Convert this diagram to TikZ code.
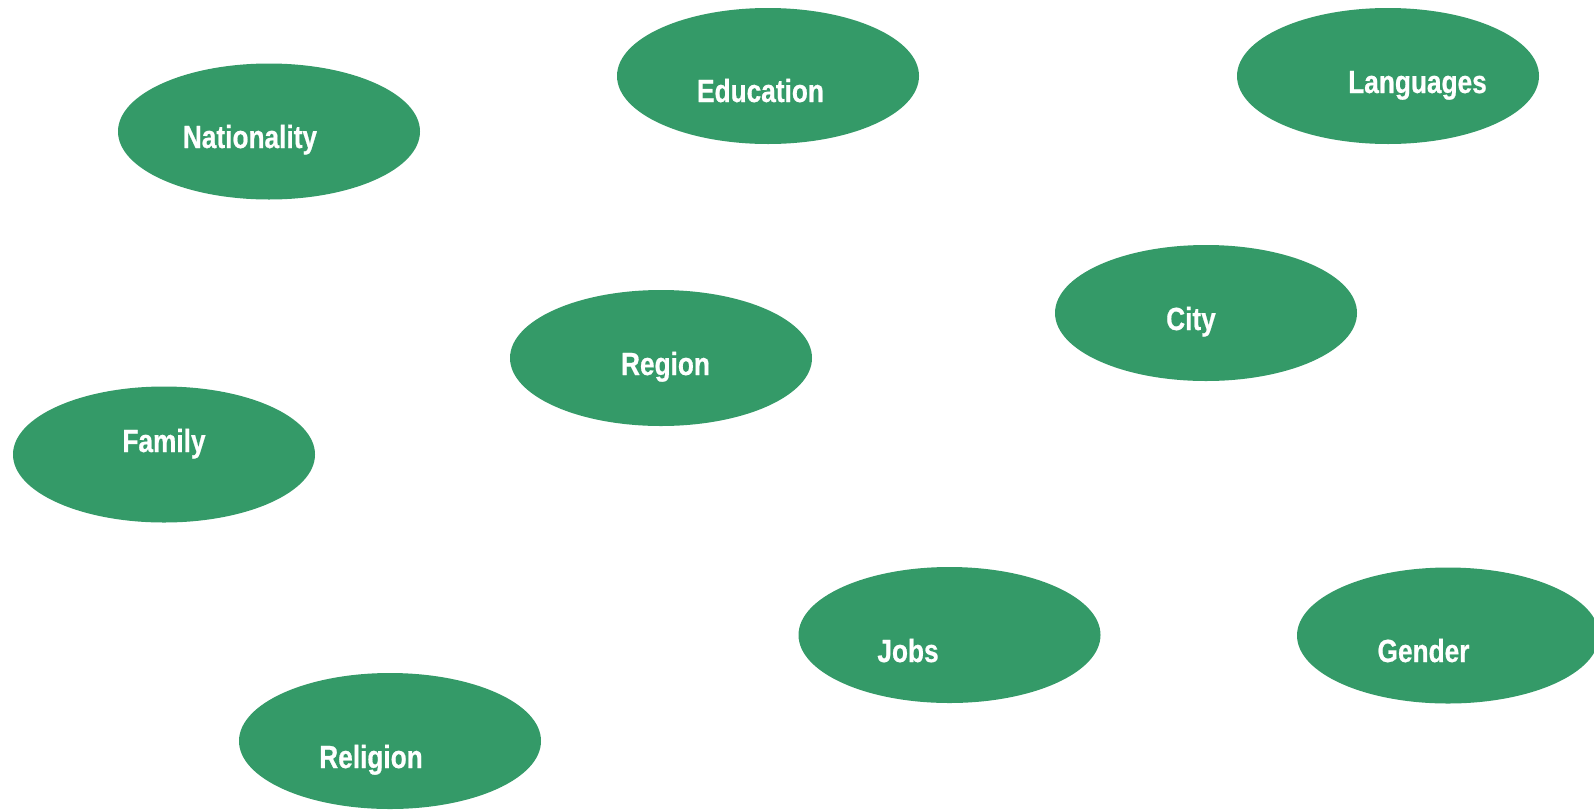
\documentclass[tikz,border=0pt]{standalone}
\usepackage{fontspec}
\usepackage{xcolor}
\usepackage{tikz}
\usetikzlibrary{shapes.geometric}

\newfontfamily\lblfont{Liberation Sans}[UprightFont={* Bold}, FakeStretch=0.82, FakeBold=0.6]
\definecolor{bubblegreen}{HTML}{349A68}

\begin{document}
\begin{tikzpicture}[x=1pt, y=-1pt,
  bubble/.style={ellipse, fill=bubblegreen, draw=none, inner sep=0pt,
    minimum width=302pt, minimum height=136pt},
  lbl/.style={anchor=base, text=white, inner sep=0pt,
    font=\lblfont\fontsize{32}{36}\selectfont}]

\useasboundingbox (0,0) rectangle (1594,809);

\node[bubble] (nat) at (269,131.5) {};
\node[lbl] (natlbl) at (250,148) {Nationality};

\node[bubble] (edu) at (768,76) {};
\node[lbl] (edulbl) at (760.5,102) {Education};

\node[bubble] (lang) at (1388,76) {};
\node[lbl] (langlbl) at (1417.5,93) {Languages};

\node[bubble] (city) at (1206,313) {};
\node[lbl] (citylbl) at (1191,330) {City};

\node[bubble] (reg) at (661,358) {};
\node[lbl] (reglbl) at (665.5,375) {Region};

\node[bubble] (fam) at (164,454.5) {};
\node[lbl] (famlbl) at (164,452) {Family};

\node[bubble] (jobs) at (949.5,635) {};
\node[lbl] (jobslbl) at (908,662) {Jobs};

\node[bubble] (gen) at (1448,635.5) {};
\node[lbl] (genlbl) at (1423.5,662) {Gender};

\node[bubble] (rel) at (390,741) {};
\node[lbl] (rellbl) at (371,768) {Religion};

\end{tikzpicture}
\end{document}
